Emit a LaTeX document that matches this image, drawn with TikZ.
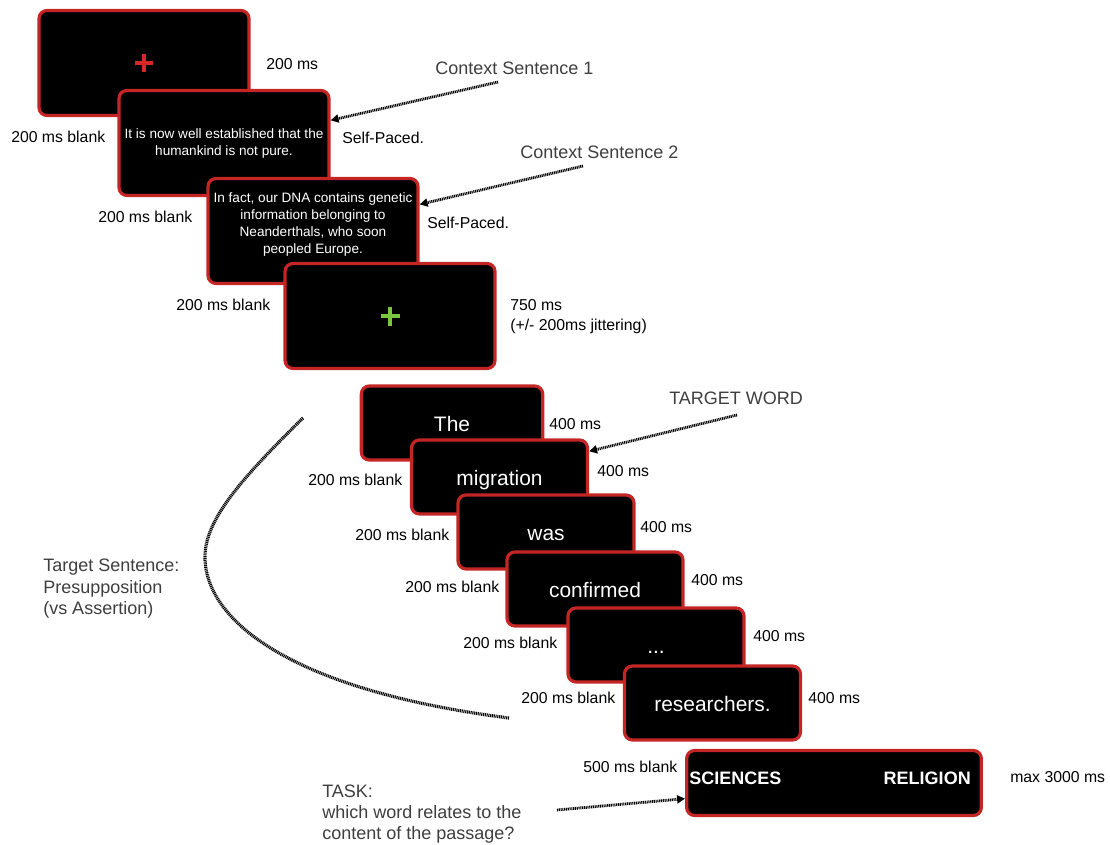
\documentclass[tikz,border=0pt]{standalone}
\usepackage{fontspec}
\setmainfont{Liberation Sans}
\usepackage{tikz}
\usetikzlibrary{arrows.meta}
\definecolor{screenred}{RGB}{196,38,38}
\definecolor{fixred}{RGB}{214,40,40}
\definecolor{fixgreen}{RGB}{122,198,62}
\definecolor{notegray}{RGB}{62,62,62}
\tikzset{
  screen/.style={draw=screenred, fill=black, line width=2.4pt, rounded corners=6pt, inner sep=0pt, text=white, align=center},
  bigscreen/.style={screen, minimum width=157.5pt, minimum height=78.75pt, font=\fontsize{10.2}{12.75}\selectfont},
  wordscreen/.style={screen, minimum width=132pt, minimum height=55.5pt, text height=15pt, text depth=3pt, font=\fontsize{15.7}{18}\selectfont},
  timing/.style={anchor=west, inner sep=0pt, align=left, font=\fontsize{11.85}{15}\selectfont},
  remark/.style={anchor=west, inner sep=0pt, align=left, text=notegray, font=\fontsize{13.5}{16}\selectfont},
  pointer/.style={line width=2.1pt, dash pattern=on 0.8pt off 0.55pt, -{Triangle[length=6pt,width=6pt]}},
  fixation/.style={line width=3.7pt}
}
\begin{document}
\begin{tikzpicture}[x=0.75pt,y=-0.75pt]
  \useasboundingbox (0,0) rectangle (1110,845);

  % context screens
  \node[bigscreen] (s1) at (144,63) {};
  \draw[fixation, fixred] (s1.center) ++(-9,0) -- ++(18,0);
  \draw[fixation, fixred] (s1.center) ++(0,-9) -- ++(0,18);
  \node[bigscreen] (s2) at (224,143) {It is now well established that the\\humankind is not pure.};
  \node[bigscreen] (s3) at (313,231) {};
  \node[text=white, align=center, font=\fontsize{10.2}{12.75}\selectfont] (s3txt) at (313,224.5)
    {In fact, our DNA contains genetic\\information belonging to\\Neanderthals, who soon\\peopled Europe.};
  \node[bigscreen] (s4) at (390,316) {};
  \draw[fixation, fixgreen] (s4.center) ++(-9.5,0) -- ++(19,0);
  \draw[fixation, fixgreen] (s4.center) ++(0,-9.5) -- ++(0,19);

  % target sentence, word by word
  \node[wordscreen, minimum width=136pt] (s5) at (452,423) {The};
  \node[wordscreen] (s6) at (499.5,477) {migration};
  \node[wordscreen] (s7) at (546,532) {was};
  \node[wordscreen] (s8) at (595,589) {confirmed};
  \node[wordscreen] (s9) at (656,645) {...};
  \node[wordscreen] (s10) at (712.5,703) {researchers.};

  % task screen
  \node[screen, minimum width=221pt, minimum height=48.75pt] (s11) at (834,783) {};
  \node[anchor=west, inner sep=0pt, text=white, font=\bfseries\fontsize{13.5}{16}\selectfont] (sci) at (689,778) {SCIENCES};
  \node[anchor=east, inner sep=0pt, text=white, font=\bfseries\fontsize{13.5}{16}\selectfont] (rel) at (971,778) {RELIGION};

  % timings
  \node[timing] (t1) at (266,64) {200 ms};
  \node[timing] (b1) at (11,137) {200 ms blank};
  \node[timing] (p1) at (342,138) {Self-Paced.};
  \node[timing] (b2) at (98,217) {200 ms blank};
  \node[timing] (p2) at (427,223) {Self-Paced.};
  \node[timing] (b3) at (176,305) {200 ms blank};
  \node[timing] (t4) at (510,317) {750 ms\\(+/- 200ms jittering)};
  \node[timing] (w1) at (549,424) {400 ms};
  \node[timing] (w2) at (597,471) {400 ms};
  \node[timing] (w3) at (640,527) {400 ms};
  \node[timing] (w4) at (691,580) {400 ms};
  \node[timing] (w5) at (753,636) {400 ms};
  \node[timing] (w6) at (808,698) {400 ms};
  \node[timing] (b5) at (308,480) {200 ms blank};
  \node[timing] (b6) at (355,535) {200 ms blank};
  \node[timing] (b7) at (405,587) {200 ms blank};
  \node[timing] (b8) at (463,643) {200 ms blank};
  \node[timing] (b9) at (521,698) {200 ms blank};
  \node[timing] (b10) at (583,767) {500 ms blank};
  \node[timing] (t11) at (1010,777) {max 3000 ms};

  % remarks and pointers
  \node[remark] (ctx1) at (435,68) {Context Sentence 1};
  \node[remark] (ctx2) at (520,152) {Context Sentence 2};
  \node[remark] (target) at (669,398) {TARGET WORD};
  \node[remark, font=\fontsize{13.5}{16.1}\selectfont] (tsent) at (43,589) {Target Sentence:\\Presupposition\\(vs Assertion)};
  \node[remark, font=\fontsize{13.5}{15.75}\selectfont] (task) at (322,814) {TASK:\\which word relates to the\\content of the passage?};

  \coordinate (ctx1tail) at (498,82);
  \coordinate (ctx2tail) at (583,166);
  \coordinate (targettail) at (737,415);
  \coordinate (tasktail) at (557,810);
  \draw[pointer] (ctx1tail) -- (s2.12);
  \draw[pointer] (ctx2tail) -- (s3.14);
  \draw[pointer] (targettail) -- (s6.16);
  \draw[pointer] (tasktail) -- (s11.186);

  \coordinate (brtop) at (303,418);
  \coordinate (brtip) at (205,557);
  \coordinate (brbot) at (509,718);
  \draw[line width=2.4pt, dash pattern=on 0.8pt off 0.55pt] (brtop) .. controls (240,480) and (205,520) .. (brtip)
    .. controls (205,620) and (290,690) .. (brbot);
\end{tikzpicture}
\end{document}
